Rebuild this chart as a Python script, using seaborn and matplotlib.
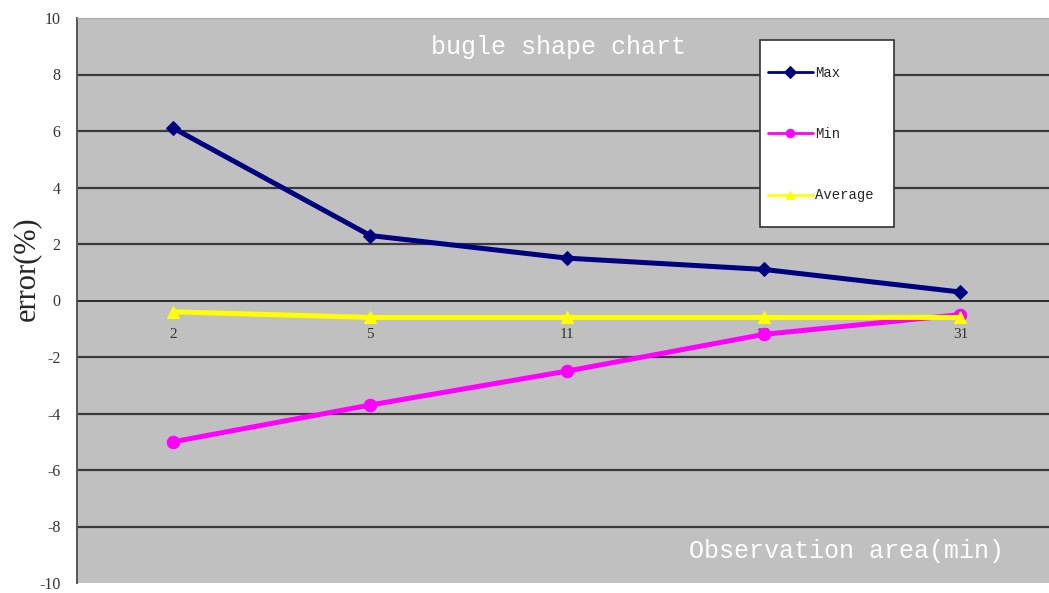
import seaborn as sns
import numpy as np
import pandas as pd
import matplotlib.pyplot as plt
from matplotlib.patches import Rectangle

# chart values
categories = ['2', '5', '11', '19', '31']
max_vals = [6.1, 2.3, 1.5, 1.1, 0.3]
min_vals = [-5.0, -3.7, -2.5, -1.2, -0.5]
avg_vals = [-0.4, -0.6, -0.6, -0.6, -0.6]
y_ticks = list(range(-10, 11, 2))

series = {'Max': max_vals, 'Min': min_vals, 'Average': avg_vals}
styles = {
    'Max': dict(color='#000080', marker='D', markersize=7),
    'Min': dict(color='#ff00ff', marker='o', markersize=9),
    'Average': dict(color='#ffff00', marker='^', markersize=9),
}

sns.set_style('white')
plt.rcParams['font.family'] = ['Liberation Mono', 'DejaVu Sans']

fig = plt.figure(figsize=(10.49, 5.93), dpi=100)
ax = fig.add_axes([77 / 1049, 10 / 593, 1 - 77 / 1049, 565 / 593])
ax.set_facecolor('#c0c0c0')

# horizontal grid
for yv in y_ticks:
    if yv in (-10, 10, 0):
        continue
    ax.axhline(yv, color='#3a3a3a', lw=1.6, zorder=1)

for name, vals in series.items():
    df = pd.DataFrame({'cat': categories, 'val': vals})
    st = styles[name]
    sns.lineplot(data=df, x='cat', y='val', ax=ax, color=st['color'],
                 marker=st['marker'], markersize=st['markersize'],
                 markeredgecolor=st['color'], linewidth=3.6,
                 label=name, zorder=3, sort=False)

ax.set_ylim(-10, 10)
ax.set_xlim(-0.49, 4.45)
ax.set_yticks(y_ticks)
ax.set_yticklabels([str(t) for t in y_ticks], family='Liberation Serif',
                   fontsize=11.5, color='#333333')

# category axis sits on y = 0
ax.spines['bottom'].set_position(('data', 0))
ax.spines['bottom'].set_color('#2a2a2a')
ax.spines['bottom'].set_linewidth(1.4)
ax.spines['bottom'].set_zorder(2)
ax.spines['left'].set_color('#555555')
ax.spines['left'].set_linewidth(1.4)
ax.spines['top'].set_color('#a8a8a8')
ax.spines['right'].set_visible(False)
ax.set_xticks(range(len(categories)))
ax.set_xticklabels(categories, fontsize=11, color='#333333',
                   family=['Liberation Serif'])
ax.tick_params(axis='x', length=0, pad=20)
ax.set_xticks(np.arange(0.5, len(categories) - 1, 1), minor=True)
ax.tick_params(axis='x', which='minor', direction='in', length=4,
               color='#2a2a2a', width=1.2)
ax.tick_params(axis='y', length=0, pad=12)

ax.set_xlabel('')
ax.set_ylabel('error(%)', family='Liberation Serif', fontsize=22)
ax.yaxis.set_label_coords(-0.037, 0.557)

ax.text(0.495, 0.949, 'bugle shape chart', transform=ax.transAxes,
        ha='center', va='center', color='white', fontsize=18)
ax.text(0.792, 0.057, 'Observation area(min)', transform=ax.transAxes,
        ha='center', va='center', color='white', fontsize=18)

# legend box drawn separately so the padding can match
ax.add_patch(Rectangle((0.7027, 0.630), 0.1379, 0.331, transform=ax.transAxes,
                       facecolor='white', edgecolor='#333333', lw=1.2,
                       zorder=5))
leg = ax.legend(loc='upper left', bbox_to_anchor=(0.711, 0.915),
                fontsize=10, labelspacing=3.4, handlelength=3.2,
                handletextpad=0.2, borderpad=0, borderaxespad=0,
                frameon=False)
leg.set_zorder(6)
for line in leg.get_lines():
    line.set_linewidth(2)
    line.set_markersize(6)

fig.savefig('out.png', dpi=100)
